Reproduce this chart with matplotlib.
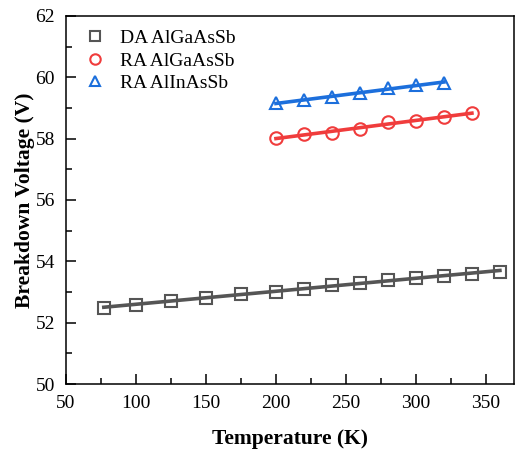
import numpy as np
import matplotlib
matplotlib.use('Agg')
import matplotlib.pyplot as plt
from matplotlib.lines import Line2D
from matplotlib.ticker import MultipleLocator

plt.rcParams['font.family'] = ['Liberation Serif', 'DejaVu Serif']
plt.rcParams['mathtext.fontset'] = 'stix'

# breakdown voltage vs temperature
temp_da = [77, 100, 125, 150, 175, 200, 220, 240, 260, 280, 300, 320, 340, 360]
vbd_da = [52.49, 52.57, 52.71, 52.81, 52.94, 53.01, 53.11, 53.24, 53.29, 53.39, 53.46, 53.53, 53.60, 53.66]

temp_ra_gaas = [200, 220, 240, 260, 280, 300, 320, 340]
vbd_ra_gaas = [58.01, 58.16, 58.18, 58.33, 58.55, 58.56, 58.70, 58.85]

temp_ra_inas = [200, 220, 240, 260, 280, 300, 320]
vbd_ra_inas = [59.15, 59.26, 59.35, 59.50, 59.66, 59.75, 59.81]

labels = ['DA AlGaAsSb', 'RA AlGaAsSb', 'RA AlInAsSb']
markers = ['s', 'o', '^']
colors = ['#555555', '#F03C3C', '#1C6FDC']

fig = plt.figure(figsize=(5.17, 4.53), dpi=100)
ax = fig.add_axes([0.1277, 0.1523, 0.8663, 0.8124])

series = [(temp_da, vbd_da), (temp_ra_gaas, vbd_ra_gaas), (temp_ra_inas, vbd_ra_inas)]
handles = []
for (t, v), lab, m, c in zip(series, labels, markers, colors):
    t = np.asarray(t, float)
    v = np.asarray(v, float)
    # linear fit across the measured range
    k, b = np.polyfit(t, v, 1)
    ax.plot([t[0], t[-1]], [k * t[0] + b, k * t[-1] + b], color=c, lw=2.6, zorder=2)
    ax.plot(t, v, ls='none', marker=m, ms=9, mfc='none', mec=c, mew=1.5, zorder=3)
    handles.append(Line2D([], [], ls='none', marker=m, ms=7.5, mfc='none', mec=c, mew=1.5, label=lab))

ax.set_xlim(50, 370)
ax.set_ylim(50, 62)
ax.xaxis.set_major_locator(MultipleLocator(50))
ax.xaxis.set_minor_locator(MultipleLocator(25))
ax.yaxis.set_major_locator(MultipleLocator(2))
ax.yaxis.set_minor_locator(MultipleLocator(1))
ax.tick_params(which='both', direction='in', width=1.1, labelsize=14, pad=8)
ax.tick_params(which='major', length=7)
ax.tick_params(which='minor', length=4)
for s in ax.spines.values():
    s.set_linewidth(1.1)

ax.set_xlabel('Temperature (K)', fontsize=15.5, fontweight='bold', labelpad=12)
ax.set_ylabel('Breakdown Voltage (V)', fontsize=15.5, fontweight='bold', labelpad=0.5)

ax.legend(handles=handles, loc='upper left', frameon=False, fontsize=14,
          handletextpad=0.5, borderaxespad=0.3, labelspacing=0.25,
          handlelength=1.6, bbox_to_anchor=(0.0, 1.0))

fig.savefig('out.png', dpi=100)
